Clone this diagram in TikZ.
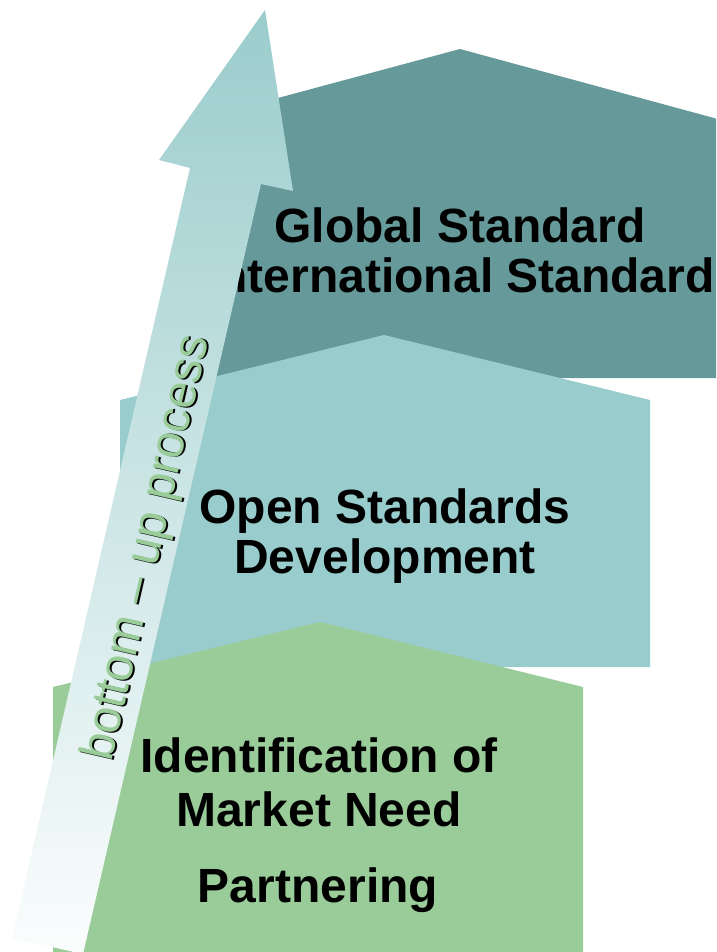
\documentclass[tikz,border=0pt]{standalone}
\usepackage{fontspec}
\setmainfont{Liberation Sans}
\definecolor{topc}{HTML}{669999}
\definecolor{midc}{HTML}{99CCCC}
\definecolor{botc}{HTML}{99CC99}
\definecolor{arrtop}{HTML}{9BCCCC}
\definecolor{arrbot}{HTML}{FBFDFD}
\begin{document}
\begin{tikzpicture}[x=1pt,y=-1pt,
  lbl/.style={font=\fontsize{48}{50}\selectfont\bfseries, anchor=base, inner sep=0pt, text=black},
  arrlbl/.style={font=\fontsize{48}{50}\selectfont, rotate=77, inner sep=0pt}]
\useasboundingbox (0,0) rectangle (716,952);
\clip (0,0) rectangle (716,952);
% pentagons
\fill[topc] (200,378) -- (200,119) -- (460,49) -- (725,121) -- (725,378) -- cycle;
\node[lbl] (g1) at (460,242) {Global Standard};
\node[lbl] (g2) at (460,292) {International Standard};
\fill[midc] (120,667) -- (120,400) -- (384,335) -- (650,400) -- (650,667) -- cycle;
\node[lbl] (o1) at (385,523) {Open Standards};
\node[lbl] (o2) at (385,573) {Development};
\fill[botc] (53,1000) -- (53,687) -- (320,622) -- (583,687) -- (583,1000) -- cycle;
\node[lbl] (i1) at (319,772) {Identification of};
\node[lbl] (i2) at (319,826) {Market Need};
\node[lbl] (p1) at (318,902) {Partnering};
% arrow
\shade[top color=arrtop, bottom color=arrbot]
  (265,10) -- (293,191) -- (261,184) -- (83,954) -- (12,938) -- (190,168) -- (159,160) -- cycle;
\node[arrlbl, text=black] (ash) at (150,548.5) {bottom – up process};
\node[arrlbl, text=botc] (al) at (148,548) {bottom – up process};
\end{tikzpicture}
\end{document}
